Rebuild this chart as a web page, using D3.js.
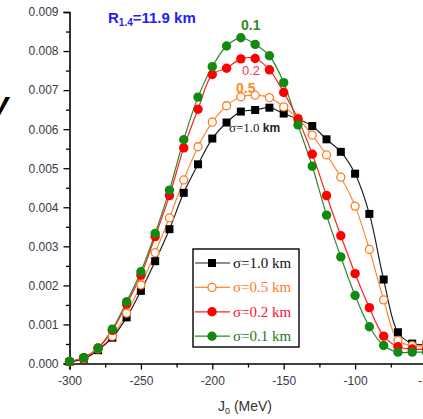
<!DOCTYPE html>
<html>
<head>
<meta charset="utf-8">
<script src="https://cdn.jsdelivr.net/npm/d3@7"></script>
<style>
  body { margin: 0; background: #fff; }
  svg { display: block; font-family: "Liberation Sans", Arial, sans-serif; }
</style>
</head>
<body>
<script>
// J0 grid (MeV)
const j0 = [-300,-290,-280,-270,-260,-250,-240,-230,-220,-210,-200,-190,-180,-170,-160,-150,-140,-130,-120,-110,-100,-90,-80,-70,-60,-50];

const sigma10 = [0.00004,0.00012,0.00034,0.00066,0.00118,0.00186,0.00262,0.00344,0.00437,0.00510,0.00576,0.00617,0.00645,0.00649,0.00655,0.00640,0.00626,0.00608,0.00574,0.00542,0.00486,0.00383,0.00215,0.00080,0.00051,0.00049];
const sigma05 = [0.00004,0.00013,0.00037,0.00070,0.00129,0.00201,0.00284,0.00373,0.00470,0.00555,0.00618,0.00660,0.00683,0.00687,0.00681,0.00657,0.00628,0.00585,0.00534,0.00477,0.00403,0.00292,0.00163,0.00059,0.00046,0.00045];
const sigma02 = [0.00005,0.00015,0.00040,0.00085,0.00152,0.00226,0.00325,0.00430,0.00552,0.00651,0.00740,0.00756,0.00780,0.00781,0.00752,0.00694,0.00626,0.00536,0.00430,0.00327,0.00230,0.00143,0.00070,0.00043,0.00037,0.00036];
const sigma01 = [0.00005,0.00015,0.00039,0.00088,0.00158,0.00235,0.00333,0.00444,0.00573,0.00682,0.00760,0.00813,0.00834,0.00817,0.00788,0.00719,0.00611,0.00505,0.00380,0.00273,0.00174,0.00094,0.00046,0.00029,0.00029,0.00029];

const legendLabels = ["σ=1.0 km", "σ=0.5 km", "σ=0.2 km", "σ=0.1 km"];
const yTicks = [0,0.001,0.002,0.003,0.004,0.005,0.006,0.007,0.008,0.009];
const xTicks = [-300,-250,-200,-150,-100,-50];

const w = 423, h = 419;

const series = [
  {label: legendLabels[0], values: sigma10, color: "#000000", line: "#222222", marker: "square", text: "#111111"},
  {label: legendLabels[1], values: sigma05, color: "#ff7a1f", line: "#ff8a33", marker: "open", text: "#ff7a1f"},
  {label: legendLabels[2], values: sigma02, color: "#ff0000", line: "#ff2020", marker: "dot", text: "#ff1030"},
  {label: legendLabels[3], values: sigma01, color: "#118a11", line: "#2a8a2a", marker: "dot", text: "#1a7a1a"}
];

const svg = d3.select("body").append("svg")
  .attr("width", w)
  .attr("height", h);

const x = d3.scaleLinear().domain([-300, -50]).range([69.5, 426.5]);
const y = d3.scaleLinear().domain([0, 0.009]).range([363.5, 12]);

// axes
const yAxis = svg.append("g")
  .attr("transform", "translate(69.5,0)")
  .call(d3.axisLeft(y).tickValues(yTicks).tickSize(6).tickPadding(5).tickFormat(d3.format(".3f")));
yAxis.selectAll(".tick text").attr("font-size", 12).attr("fill", "#3a3a4a");

svg.append("g")
  .attr("transform", "translate(69.5,0)")
  .call(d3.axisLeft(y).tickValues(d3.range(0.0005, 0.009, 0.001)).tickSize(3.5).tickFormat(""))
  .call(g => g.select(".domain").remove());

const xAxis = svg.append("g")
  .attr("transform", "translate(0,363.5)")
  .call(d3.axisBottom(x).tickValues(xTicks).tickSize(6).tickPadding(7).tickFormat(d => String(d)));
xAxis.selectAll(".tick text").attr("font-size", 12).attr("fill", "#3a3a4a");

svg.append("g")
  .attr("transform", "translate(0,363.5)")
  .call(d3.axisBottom(x).tickValues([-275,-225,-175,-125,-75]).tickSize(4).tickFormat(""))
  .call(g => g.select(".domain").remove());

svg.selectAll(".domain").attr("stroke-width", 1.6);
svg.selectAll(".tick line").attr("stroke-width", 1.3);

// curves
const line = d3.line()
  .x((d, i) => x(j0[i]))
  .y(d => y(d))
  .curve(d3.curveCatmullRom);

series.slice().reverse().forEach(s => {
  svg.append("path")
    .attr("d", line(s.values))
    .attr("fill", "none")
    .attr("stroke", s.line)
    .attr("stroke-width", 1.2);
});

function drawMarker(g, s, cx, cy) {
  if (s.marker === "square") {
    g.append("rect")
      .attr("x", cx - 4).attr("y", cy - 4)
      .attr("width", 8).attr("height", 8)
      .attr("fill", s.color);
  } else if (s.marker === "open") {
    g.append("circle")
      .attr("cx", cx).attr("cy", cy).attr("r", 4)
      .attr("fill", "#fff")
      .attr("stroke", s.color)
      .attr("stroke-width", 1.3);
  } else {
    g.append("circle")
      .attr("cx", cx).attr("cy", cy).attr("r", 4.7)
      .attr("fill", s.color);
  }
}

series.forEach(s => {
  const g = svg.append("g");
  s.values.forEach((v, i) => drawMarker(g, s, x(j0[i]), y(v)));
});

// legend
const legend = svg.append("g");
legend.append("rect")
  .attr("x", 193).attr("y", 249)
  .attr("width", 106).attr("height", 98)
  .attr("fill", "#fff")
  .attr("stroke", "#000")
  .attr("stroke-width", 1.4);

series.forEach((s, i) => {
  const ly = 263 + i * 24.4;
  legend.append("line")
    .attr("x1", 195).attr("x2", 230)
    .attr("y1", ly).attr("y2", ly)
    .attr("stroke", s.line)
    .attr("stroke-width", 1.2);
  drawMarker(legend, s, 212, ly);
  legend.append("text")
    .attr("x", 233).attr("y", ly + 5)
    .attr("font-family", "'Liberation Serif', 'Times New Roman', serif")
    .attr("font-size", 15)
    .attr("fill", s.text)
    .text(s.label);
});

// annotations
const rLab = svg.append("text")
  .attr("x", 108).attr("y", 23)
  .attr("font-size", 15)
  .attr("font-weight", "bold")
  .attr("fill", "#2323ee");
rLab.append("tspan").text("R");
rLab.append("tspan").attr("font-size", 10).attr("dy", 3).text("1.4");
rLab.append("tspan").attr("dy", -3).text("=11.9 km");

svg.append("text").attr("x", 241).attr("y", 30)
  .attr("font-size", 14).attr("font-weight", "bold").attr("fill", "#2d8a2d").text("0.1");
svg.append("text").attr("x", 242).attr("y", 75)
  .attr("font-size", 13).attr("fill", "#ff3355").text("0.2");
svg.append("text").attr("x", 236).attr("y", 93)
  .attr("font-size", 14).attr("font-weight", "bold").attr("fill", "#ff8c1a").text("0.5");

const sLab = svg.append("text").attr("x", 229).attr("y", 132).attr("fill", "#222");
sLab.append("tspan")
  .attr("font-family", "'Liberation Serif', 'Times New Roman', serif")
  .attr("font-size", 13).text("σ=1.0 ");
sLab.append("tspan").attr("font-size", 12).attr("font-weight", "bold").text("km");

// axis title
const xt = svg.append("text").attr("x", 218).attr("y", 411)
  .attr("font-size", 14).attr("fill", "#333");
xt.append("tspan").text("J");
xt.append("tspan").attr("font-size", 9).attr("dy", 3).text("0");
xt.append("tspan").attr("dy", -3).text(" (MeV)");

// cut-off glyph at left edge
svg.append("text").attr("x", -9).attr("y", 114)
  .attr("font-size", 32).attr("font-weight", "bold").attr("font-style", "italic")
  .attr("fill", "#000").text("y");
</script>
</body>
</html>
